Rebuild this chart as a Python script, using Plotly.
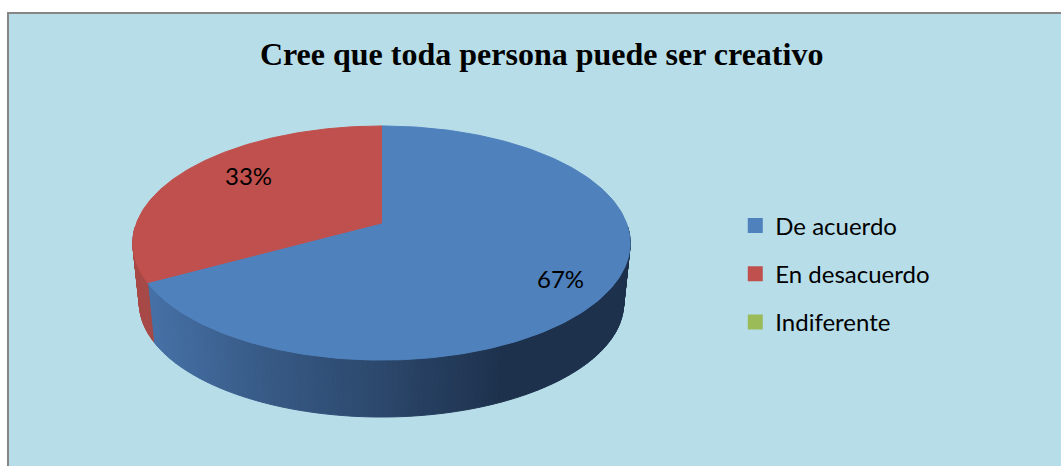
import numpy as np
from plotly import graph_objects as go

title = "Cree que toda persona puede ser creativo"
categories = ["De acuerdo", "En desacuerdo", "Indiferente"]
values = [67, 33, 0]
colors = ["#4F81BD", "#C0504D", "#9BBB59"]

W, H = 1061, 466
BG = "#B7DDE8"

# perspective of the tilted disc
CX, APEX_Y = 381.5, 223
K, C, A = 245, 0.171, -75.5
VANISH_Y, SHRINK = 2550, 0.974


def project(deg, lower=False):
    t = np.radians(deg)
    u, v = np.sin(t), np.cos(t)
    d = C * v + 1
    x = CX + K * u / d
    y = (A * v + APEX_Y) / d
    if lower:
        x = CX + SHRINK * (x - CX)
        y = VANISH_Y + SHRINK * (y - VANISH_Y)
    return x, y


def shade(x, stops):
    xs = [s[0] for s in stops]
    rgb = [np.interp(x, xs, [s[1][i] for s in stops]) for i in range(3)]
    return "rgb(%d,%d,%d)" % tuple(rgb)


blue_side = [(150, (70, 113, 166)), (260, (56, 91, 135)), (381, (44, 72, 108)),
             (500, (30, 50, 78)), (630, (29, 49, 76))]
red_side = [(130, (170, 74, 72)), (160, (163, 72, 70))]

fig = go.Figure()

# wedge limits, clockwise from the top
shares = np.array(values) / sum(values) * 360
starts = np.concatenate([[0], np.cumsum(shares)[:-1]])
ends = starts + shares


def add_side(a0, a1, stops):
    angles = np.arange(a0, a1, 1.0).tolist() + [a1]
    for p, q in zip(angles[:-1], angles[1:]):
        x0, y0 = project(p)
        x1, y1 = project(q)
        x2, y2 = project(q, True)
        x3, y3 = project(p, True)
        col = shade((x0 + x1) / 2, stops)
        fig.add_trace(go.Scatter(x=[x0, x1, x2, x3, x0], y=[y0, y1, y2, y3, y0], mode="lines",
                                 fill="toself", fillcolor=col, line=dict(color=col, width=1),
                                 showlegend=False, hoverinfo="skip"))


add_side(92, ends[0], blue_side)
add_side(ends[0], 268, red_side)

for s, e, col, name in zip(starts, ends, colors, categories):
    if e <= s:
        continue
    arc = np.linspace(s, e, 240)
    px, py = project(arc)
    fig.add_trace(go.Scatter(x=[CX, *px, CX], y=[APEX_Y, *py, APEX_Y], mode="lines", fill="toself",
                             fillcolor=col, line=dict(color=col, width=1), showlegend=False,
                             name=name, hoverinfo="skip"))

# legend swatches
for i, (name, col) in enumerate(zip(categories, colors)):
    fig.add_trace(go.Scatter(x=[None], y=[None], mode="markers", name=name, legendgroup=name,
                             marker=dict(symbol="square", size=15, color=col)))

fig.add_annotation(x=248, y=175, text=f"{values[1]}%", showarrow=False)
fig.add_annotation(x=560, y=278, text=f"{values[0]}%", showarrow=False)

fig.add_shape(type="rect", x0=8, y0=13, x1=W + 10, y1=H + 10, fillcolor=BG,
              line=dict(color="#868686", width=2), layer="below")

fig.update_xaxes(range=[0, W], visible=False)
fig.update_yaxes(range=[H, 0], visible=False)
fig.update_layout(width=W, height=H, margin=dict(l=0, r=0, t=0, b=0),
                  paper_bgcolor="white", plot_bgcolor="white",
                  font=dict(family="Lato", size=24, color="black"),
                  title=dict(text=f"<b>{title}</b>", x=0.5105, xanchor="center", y=0.885, yanchor="middle",
                             font=dict(family="Liberation Serif", size=32, color="black")),
                  legend=dict(x=0.693, y=0.412, xanchor="left", yanchor="middle", tracegroupgap=14,
                              bgcolor="rgba(0,0,0,0)", font=dict(family="Lato", size=24), itemwidth=30))

fig.write_html("out.html", post_script="document.body.style.margin='0';",
               config=dict(displayModeBar=False))
